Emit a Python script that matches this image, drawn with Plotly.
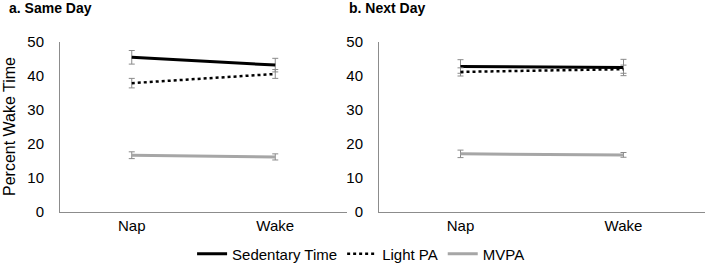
import plotly.graph_objects as go

categories = ["Nap", "Wake"]

# Panel a: Same Day
same_sed = [45.5, 43.2]
same_sed_err = [2.0, 2.0]
same_light = [37.9, 40.6]
same_light_err = [1.4, 1.3]
same_mvpa = [16.7, 16.2]
same_mvpa_err = [1.0, 0.9]

# Panel b: Next Day
next_sed = [42.8, 42.5]
next_sed_err = [2.0, 2.4]
next_light = [41.2, 42.0]
next_light_err = [1.2, 1.2]
next_mvpa = [17.1, 16.8]
next_mvpa_err = [1.1, 0.7]

y_ticks = [0, 10, 20, 30, 40, 50]

W, H = 708, 272
FONT = "Liberation Sans, Arial, sans-serif"
ERR_COLOR = "#8a8a8a"

series = [
    ("Sedentary Time", dict(color="black", width=3), same_sed, same_sed_err, next_sed, next_sed_err),
    ("Light PA", dict(color="black", width=2.5, dash="dot"), same_light, same_light_err, next_light, next_light_err),
    ("MVPA", dict(color="#a6a6a6", width=3), same_mvpa, same_mvpa_err, next_mvpa, next_mvpa_err),
]

fig = go.Figure()
for name, line, ys, es, yn, en in series:
    fig.add_trace(go.Scatter(
        x=categories, y=ys, mode="lines", name=name, line=line,
        error_y=dict(type="data", array=es, color=ERR_COLOR, thickness=1, width=3),
        xaxis="x", yaxis="y", showlegend=True, legendgroup=name,
    ))
    fig.add_trace(go.Scatter(
        x=categories, y=yn, mode="lines", name=name, line=line,
        error_y=dict(type="data", array=en, color=ERR_COLOR, thickness=1, width=3),
        xaxis="x2", yaxis="y2", showlegend=False, legendgroup=name,
    ))

ydom = [(H - 212) / H, (H - 42) / H]
axis_common = dict(showgrid=False, zeroline=False, showline=True, linecolor="#8c8c8c",
                   linewidth=1, ticks="", automargin=False,
                   tickfont=dict(size=15, color="black", family=FONT))

fig.update_layout(
    width=W, height=H,
    margin=dict(l=0, r=0, t=0, b=0, pad=0, autoexpand=False),
    paper_bgcolor="white", plot_bgcolor="white",
    font=dict(family=FONT, color="black", size=15),
    xaxis=dict(domain=[60 / W, 347 / W], range=[-0.5, 1.5], anchor="y", **axis_common),
    xaxis2=dict(domain=[379 / W, 705 / W], range=[-0.5, 1.5], anchor="y2", **axis_common),
    yaxis=dict(domain=ydom, range=[0, 50], tickvals=y_ticks, anchor="x",
               ticklabelstandoff=12, **axis_common),
    yaxis2=dict(domain=ydom, range=[0, 50], tickvals=y_ticks, anchor="x2",
                ticklabelstandoff=12, **axis_common),
    legend=dict(orientation="h", x=0.51, xanchor="center", y=(H - 254) / H, yanchor="middle",
                font=dict(size=15), itemwidth=30, bgcolor="rgba(0,0,0,0)", tracegroupgap=0),
    annotations=[
        dict(text="<b>a. Same Day</b>", x=7 / W, y=1 - 8 / H, xref="paper", yref="paper",
             xanchor="left", yanchor="middle", showarrow=False, font=dict(size=14)),
        dict(text="<b>b. Next Day</b>", x=347 / W, y=1 - 8 / H, xref="paper", yref="paper",
             xanchor="left", yanchor="middle", showarrow=False, font=dict(size=14)),
        dict(text="Percent Wake Time", x=9 / W, y=(H - 127) / H, xref="paper", yref="paper",
             xanchor="center", yanchor="middle", textangle=-90, showarrow=False, font=dict(size=16)),
    ],
)

fig.write_html("out.html", post_script="document.body.style.margin='0';",
               config={"displayModeBar": False})
